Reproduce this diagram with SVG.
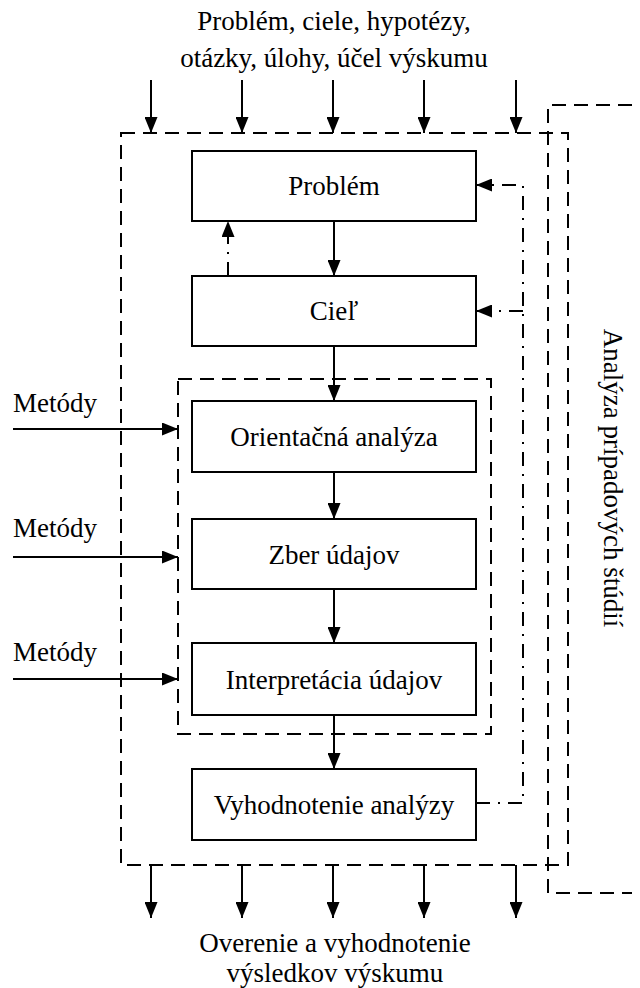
<svg xmlns="http://www.w3.org/2000/svg" width="640" height="988" viewBox="0 0 640 988">
  <style>
    text { font-family: "Liberation Serif", "Times New Roman", serif; font-size: 27px; fill: #000; }
    .c { text-anchor: middle; }
    .box { fill: #fff; stroke: #000; stroke-width: 2; }
    .dash { fill: none; stroke: #000; stroke-width: 2; stroke-dasharray: 14 8; }
    .solid { fill: none; stroke: #000; stroke-width: 2; }
    .dashdot { fill: none; stroke: #000; stroke-width: 2; stroke-dasharray: 14 8 2 8; }
  </style>
  <defs>
    <marker id="arrow" viewBox="0 0 16 13" refX="16" refY="6.5" markerWidth="16" markerHeight="13" markerUnits="userSpaceOnUse" orient="auto">
      <path d="M0,0 L16,6.5 L0,13 z" fill="#000"/>
    </marker>
  </defs>

  <rect width="640" height="988" fill="#fff"/>

  <!-- frames -->
  <g id="frames">
    <rect class="dash" x="121" y="133" width="447" height="732"/>
    <path class="dash" d="M632,105 H548 V893 H632"/>
    <rect class="dash" x="178" y="379" width="313" height="355"/>
  </g>

  <!-- input / output labels -->
  <g id="inputs">
    <text class="c" x="334" y="30">Problém, ciele, hypotézy,</text>
    <text class="c" x="334" y="67">otázky, úlohy, účel výskumu</text>
  </g>
  <g id="outputs">
    <text class="c" x="335" y="952">Overenie a vyhodnotenie</text>
    <text class="c" x="335" y="982">výsledkov výskumu</text>
  </g>
  <g id="side-label">
    <text class="c" transform="translate(604,478) rotate(90)">Analýza prípadových štúdií</text>
  </g>
  <g id="methods">
    <text x="13" y="412">Metódy</text>
    <text x="13" y="537">Metódy</text>
    <text x="13" y="661">Metódy</text>
  </g>

  <!-- process steps -->
  <g id="problem">
    <rect class="box" x="192" y="151" width="284" height="70"/>
    <text class="c" x="334" y="195">Problém</text>
  </g>
  <g id="ciel">
    <rect class="box" x="192" y="276" width="284" height="70"/>
    <text class="c" x="334" y="320">Cieľ</text>
  </g>
  <g id="orientacna">
    <rect class="box" x="192" y="401" width="284" height="71"/>
    <text class="c" x="334" y="446">Orientačná analýza</text>
  </g>
  <g id="zber">
    <rect class="box" x="192" y="519" width="284" height="70"/>
    <text class="c" x="334" y="564">Zber údajov</text>
  </g>
  <g id="interpretacia">
    <rect class="box" x="192" y="643" width="284" height="72"/>
    <text class="c" x="334" y="689">Interpretácia údajov</text>
  </g>
  <g id="vyhodnotenie">
    <rect class="box" x="192" y="769" width="284" height="71"/>
    <text class="c" x="334" y="814">Vyhodnotenie analýzy</text>
  </g>

  <!-- connectors -->
  <g id="connectors">
    <!-- inputs from above -->
    <line class="solid" x1="151" y1="80" x2="151" y2="133" marker-end="url(#arrow)"/>
    <line class="solid" x1="242" y1="80" x2="242" y2="133" marker-end="url(#arrow)"/>
    <line class="solid" x1="333" y1="80" x2="333" y2="133" marker-end="url(#arrow)"/>
    <line class="solid" x1="424" y1="80" x2="424" y2="133" marker-end="url(#arrow)"/>
    <line class="solid" x1="516" y1="80" x2="516" y2="133" marker-end="url(#arrow)"/>
    <!-- outputs below -->
    <line class="solid" x1="151" y1="865" x2="151" y2="918" marker-end="url(#arrow)"/>
    <line class="solid" x1="242" y1="865" x2="242" y2="918" marker-end="url(#arrow)"/>
    <line class="solid" x1="333" y1="865" x2="333" y2="918" marker-end="url(#arrow)"/>
    <line class="solid" x1="424" y1="865" x2="424" y2="918" marker-end="url(#arrow)"/>
    <line class="solid" x1="516" y1="865" x2="516" y2="918" marker-end="url(#arrow)"/>
    <!-- methods -->
    <line class="solid" x1="13" y1="429" x2="178" y2="429" marker-end="url(#arrow)"/>
    <line class="solid" x1="13" y1="557" x2="178" y2="557" marker-end="url(#arrow)"/>
    <line class="solid" x1="13" y1="679" x2="178" y2="679" marker-end="url(#arrow)"/>
    <!-- main flow -->
    <line class="solid" x1="334" y1="221" x2="334" y2="276" marker-end="url(#arrow)"/>
    <line class="solid" x1="334" y1="346" x2="334" y2="401" marker-end="url(#arrow)"/>
    <line class="solid" x1="334" y1="472" x2="334" y2="519" marker-end="url(#arrow)"/>
    <line class="solid" x1="334" y1="589" x2="334" y2="643" marker-end="url(#arrow)"/>
    <line class="solid" x1="334" y1="715" x2="334" y2="769" marker-end="url(#arrow)"/>
    <!-- feedback -->
    <line class="dashdot" x1="228" y1="276" x2="228" y2="221" marker-end="url(#arrow)"/>
    <path class="dashdot" d="M476,803 H523 V185 H476" marker-end="url(#arrow)"/>
    <path class="dashdot" d="M523,311 H476" marker-end="url(#arrow)"/>
  </g>
</svg>
